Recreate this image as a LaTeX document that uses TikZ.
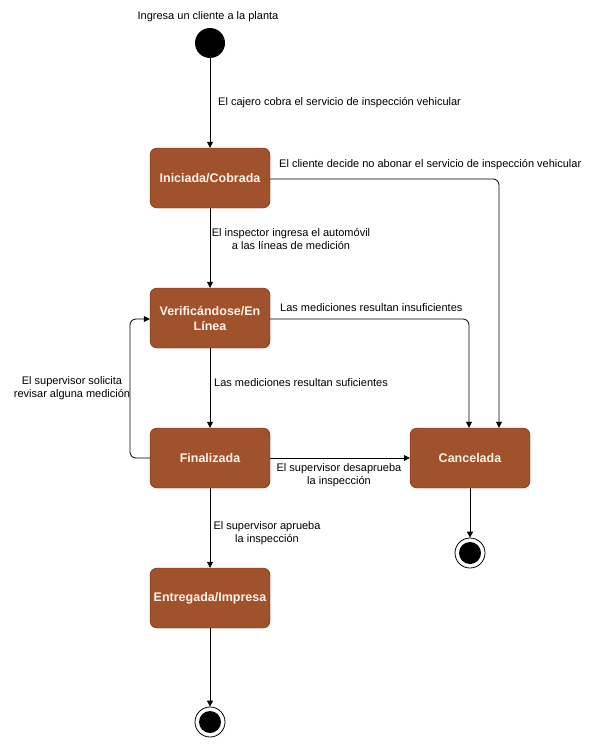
\documentclass[tikz,border=0pt]{standalone}
\usepackage{fontspec}
\setmainfont{Liberation Sans}
\usetikzlibrary{arrows.meta}
\definecolor{statefill}{HTML}{A0522D}
\definecolor{stateline}{HTML}{6D1F00}
\definecolor{statetext}{HTML}{FFF2E8}
\begin{document}
\begin{tikzpicture}[x=1pt,y=-1pt,
  state/.style={draw=stateline,fill=statefill,rounded corners=7pt,minimum width=120pt,minimum height=60pt,
    text width=114pt,align=center,inner sep=0pt,text=statetext,font=\fontsize{12.5}{15}\selectfont\bfseries},
  initst/.style={circle,fill=black,minimum size=30pt,inner sep=0pt},
  finalst/.style={circle,draw=black,fill=white,minimum size=30pt,inner sep=0pt,line width=0.8pt,
    path picture={\fill[black] (path picture bounding box.center) circle (11pt);}},
  lbl/.style={font=\fontsize{11}{13}\selectfont,inner sep=0pt,align=center},
  flow/.style={draw=black,line width=0.8pt,rounded corners=6pt,-{Triangle[length=6pt,width=6pt]}}]
\useasboundingbox (0,0) rectangle (591,749);

% states
\node[initst] (start) at (210,43) {};
\node[state] (ini) at (210,178) {Iniciada/Cobrada};
\node[state] (ver) at (210,318) {Verificándose/En Línea};
\node[state] (fin) at (210,458) {Finalizada};
\node[state] (ent) at (210,598) {Entregada/Impresa};
\node[state] (can) at (470,458) {Cancelada};
\node[finalst] (endc) at (470,553) {};
\node[finalst] (endm) at (210,722) {};

% helper points for the bent transitions
\coordinate (c1) at (499,179);
\coordinate (c2) at (469,319);
\coordinate (l1) at (130,458);
\coordinate (l2) at (130,319);

% transitions
\draw[flow] (start) -- (ini);
\draw[flow] (ini) -- (ver);
\draw[flow] (ver) -- (fin);
\draw[flow] (fin) -- (ent);
\draw[flow] (ent) -- (endm);
\draw[flow] (can) -- (endc);
\draw[flow] (fin) -- (can);
\draw[flow] (ini.east |- c1) -- (c1) -- (c1 |- can.north);
\draw[flow] (ver.east |- c2) -- (c2) -- (c2 |- can.north);
\draw[flow] (fin.west) -- (l1) -- (l2) -- (ver.west |- l2);

% labels
\node[lbl] (t0) at (208,17) {Ingresa un cliente a la planta};
\node[lbl,anchor=west] (t1) at (218,103) {El cajero cobra el servicio de inspección vehicular};
\node[lbl,anchor=west] (t2) at (279,165) {El cliente decide no abonar el servicio de inspección vehicular};
\node[lbl] (t3) at (291,239.5) {El inspector ingresa el automóvil\\a las líneas de medición};
\node[lbl,anchor=west] (t4) at (280,308) {Las mediciones resultan insuficientes};
\node[lbl,anchor=west] (t5) at (214,383) {Las mediciones resultan suficientes};
\node[lbl] (t6) at (72,388) {El supervisor solicita\\revisar alguna medición};
\node[lbl] (t7) at (339,475) {El supervisor desaprueba\\la inspección};
\node[lbl] (t8) at (267,533.5) {El supervisor aprueba\\la inspección};
\end{tikzpicture}
\end{document}
